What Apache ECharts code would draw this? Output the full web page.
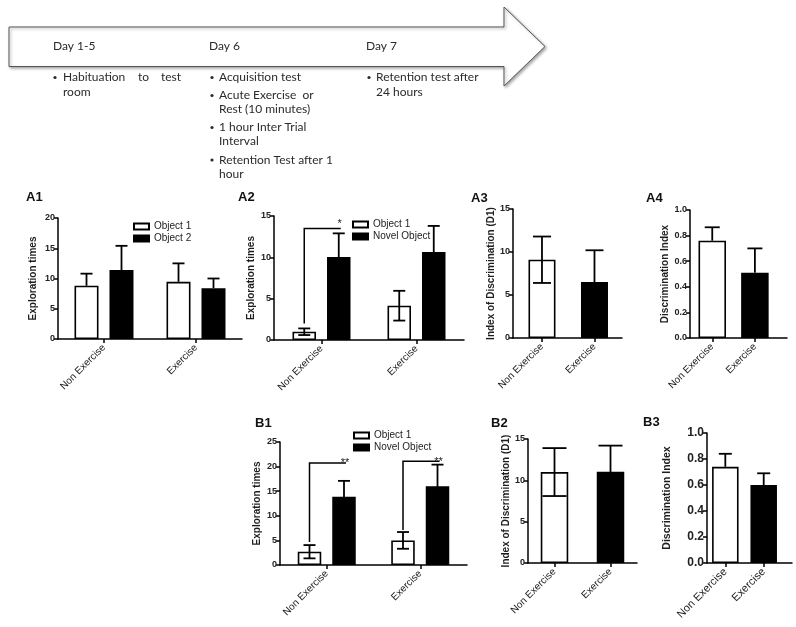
<!DOCTYPE html>
<html><head><meta charset="utf-8">
<script src="https://cdn.jsdelivr.net/npm/echarts@6/dist/echarts.min.js"></script>
<style>html,body{margin:0;padding:0;background:#fff}#c{width:796px;height:627px}</style>
</head><body><div id="c"></div>
<script>
// ---------- DATA ----------
const categories = ['Non Exercise', 'Exercise'];
// A1
const a1Object1 = [8.8, 9.45];   const a1Object1Err = [2.0, 3.05];
const a1Object2 = [11.4, 8.4];   const a1Object2Err = [4.0, 1.6];
// A2
const a2Object1 = [1.0, 4.15];   const a2Object1Err = [0.4, 1.8];
const a2Novel   = [10.05, 10.65]; const a2NovelErr = [2.85, 3.15];
const a2Brackets = [[0, 2.0, 13.5, '*']];
// A3
const a3Index = [9.1, 6.5];      const a3IndexErr = [2.7, 3.7];
// A4
const a4Index = [0.76, 0.51];    const a4IndexErr = [0.105, 0.19];
// B1
const b1Object1 = [2.7, 5.0];    const b1Object1Err = [1.35, 1.7];
const b1Novel   = [13.85, 16.0]; const b1NovelErr = [3.25, 4.4];
const b1Brackets = [[0, 4.7, 20.75, '**'], [1, 7.1, 21.1, '**']];
// B2
const b2Index = [11.0, 11.05];   const b2IndexErr = [2.9, 3.15];
// B3
const b3Index = [0.74, 0.60];    const b3IndexErr = [0.10, 0.09];
// tick labels
const ticksA1 = [0, 5, 10, 15, 20];
const ticksA2 = [0, 5, 10, 15];
const ticksA3 = [0, 5, 10, 15];
const ticksA4 = [0.0, 0.2, 0.4, 0.6, 0.8, 1.0];
const ticksB1 = [0, 5, 10, 15, 20, 25];
const ticksB2 = [0, 5, 10, 15];
const ticksB3 = [0.0, 0.2, 0.4, 0.6, 0.8, 1.0];
// timeline texts
const dayLabels = ['Day 1-5', 'Day 6', 'Day 7'];
const day1Bullets = [['Habituation', 'to', 'test'], ['room']];
const day6Bullets = [['Acquisition test'], ['Acute Exercise  or', 'Rest (10 minutes)'], ['1 hour Inter Trial', 'Interval'], ['Retention Test after 1', 'hour']];
const day7Bullets = [['Retention test after', '24 hours']];

// ---------- CHART ----------
const chart = echarts.init(document.getElementById('c'), null, {renderer: 'canvas'});
const AX = 'Liberation Sans, Arial, sans-serif';
const TL = 'Lato, sans-serif';
const INK = '#1e1e1e';
const TLC = '#2b2b2b';

const option = {backgroundColor: '#fff', animation: false, grid: [], xAxis: [], yAxis: [], series: [], legend: [], graphic: []};

function errRender(offset, cap, showLow) {
  return function (params, api) {
    const x = api.value(0), v = api.value(1), e = api.value(2);
    const mid = api.coord([x, v]);
    const top = api.coord([x, v + e]);
    const bot = api.coord([x, v - e]);
    const cx = mid[0] + offset;
    const st = {stroke: '#000', lineWidth: 1.8};
    const ch = [
      {type: 'line', shape: {x1: cx, y1: showLow ? bot[1] : mid[1], x2: cx, y2: top[1]}, style: st},
      {type: 'line', shape: {x1: cx - cap / 2, y1: top[1], x2: cx + cap / 2, y2: top[1]}, style: st}
    ];
    if (showLow) ch.push({type: 'line', shape: {x1: cx - cap / 2, y1: bot[1], x2: cx + cap / 2, y2: bot[1]}, style: st});
    return {type: 'group', children: ch};
  };
}
function bracketRender(list, off1, off2, starDy, font) {
  return function (params, api) {
    const item = list[params.dataIndex];
    const x = item[0];
    const lo = api.coord([x, item[1]]);
    const hi = api.coord([x, item[2]]);
    const x1 = lo[0] + off1, x2 = lo[0] + off2;
    const st = {stroke: '#000', lineWidth: 1.5, fill: null};
    return {type: 'group', children: [
      {type: 'polyline', shape: {points: [[x1, lo[1]], [x1, hi[1]], [x2 + 2, hi[1]]]}, style: st},
      {type: 'text', style: {x: x2 + 1, y: hi[1] + starDy, text: item[3], font: font, fill: '#222', align: 'center', verticalAlign: 'top'}}
    ]};
  };
}

const panels = [
  {label: 'A1', lx: 26, ly: 191, grid: {left: 58, top: 218, width: 184, height: 121}, ticks: ticksA1, yName: 'Exploration times', nameGap: 20,
   type: 'category', barWidth: 24, gap: 11, cap: 12, showLow: false, tickFont: 9,
   series: [['Object 1', a1Object1, a1Object1Err, '#fff'], ['Object 2', a1Object2, a1Object2Err, '#000']],
   legend: {left: 133, top: 221}},
  {label: 'A2', lx: 238, ly: 191, grid: {left: 274, top: 216, width: 190, height: 124}, ticks: ticksA2, yName: 'Exploration times', nameGap: 18,
   type: 'category', barWidth: 23.5, gap: 11, cap: 12, showLow: true, tickFont: 9,
   series: [['Object 1', a2Object1, a2Object1Err, '#fff'], ['Novel Object', a2Novel, a2NovelErr, '#000']],
   brackets: a2Brackets, starDy: -10, starFont: '11px ' + AX,
   legend: {left: 352, top: 219}},
  {label: 'A3', lx: 471, ly: 192, grid: {left: 513, top: 209, width: 109, height: 129}, ticks: ticksA3, yName: 'Index of Discrimination (D1)', nameGap: 16,
   type: 'value', xMin: -0.552, xMax: 1.524, barWidth: 27, cap: 18, showLow: true, tickFont: 9,
   series: [['DI A3', a3Index, a3IndexErr, null]]},
  {label: 'A4', lx: 646, ly: 192, grid: {left: 690, top: 210, width: 97, height: 128}, ticks: ticksA4, yName: 'Discrimination Index', nameGap: 14,
   type: 'value', xMin: -0.522, xMax: 1.753, barWidth: 27.5, cap: 15, showLow: false, tickFont: 9, dec: 1,
   series: [['DI A4', a4Index, a4IndexErr, null]]},
  {label: 'B1', lx: 255, ly: 417, grid: {left: 280, top: 442, width: 187, height: 123}, ticks: ticksB1, yName: 'Exploration times', nameGap: 18,
   type: 'category', barWidth: 23.5, gap: 11, cap: 12, showLow: true, tickFont: 9,
   series: [['Object 1', b1Object1, b1Object1Err, '#fff'], ['Novel Object', b1Novel, b1NovelErr, '#000']],
   brackets: b1Brackets, starDy: -5, starFont: '11px ' + AX,
   legend: {left: 353, top: 430}},
  {label: 'B2', lx: 491, ly: 417, grid: {left: 528, top: 439, width: 109, height: 124}, ticks: ticksB2, yName: 'Index of Discrimination (D1)', nameGap: 17,
   type: 'value', xMin: -0.473, xMax: 1.473, barWidth: 27.5, cap: 24, showLow: true, tickFont: 9,
   series: [['DI B2', b2Index, b2IndexErr, null]]},
  {label: 'B3', lx: 643, ly: 416, grid: {left: 707, top: 433, width: 85, height: 130}, ticks: ticksB3, yName: 'Discrimination Index', nameGap: 34,
   type: 'value', xMin: -0.477, xMax: 1.737, barWidth: 26.5, cap: 13, showLow: false, tickFont: 12, yNameFont: 10.5, catFont: 11, dec: 1,
   series: [['DI B3', b3Index, b3IndexErr, null]]}
];

const axisLineStyle = {color: '#000', width: 1.5};
panels.forEach(function (p, gi) {
  option.grid.push(Object.assign({containLabel: false}, p.grid));
  const t = p.ticks;
  option.yAxis.push({
    gridIndex: gi, type: 'value', min: t[0], max: t[t.length - 1], interval: t[1] - t[0],
    name: p.yName, nameLocation: 'middle', nameGap: p.nameGap, nameRotate: 90,
    nameTextStyle: {fontFamily: AX, fontWeight: 'bold', fontSize: p.yNameFont || 10, color: INK},
    axisLine: {show: true, onZero: false, lineStyle: axisLineStyle},
    axisTick: {show: true, length: 4, lineStyle: axisLineStyle},
    splitLine: {show: false},
    axisLabel: {fontFamily: AX, fontWeight: 'bold', fontSize: p.tickFont, color: '#222', margin: 3,
      formatter: p.dec ? function (v) { return v.toFixed(p.dec); } : undefined}
  });
  const labelStyle = {fontFamily: AX, fontSize: p.catFont || 10, color: '#222', rotate: 45, margin: 7, interval: 0};
  if (p.type === 'category') {
    option.xAxis.push({gridIndex: gi, type: 'category', data: categories, boundaryGap: true,
      axisLine: {show: true, onZero: false, lineStyle: axisLineStyle}, axisTick: {show: true, alignWithLabel: true, length: 4, lineStyle: axisLineStyle},
      axisLabel: labelStyle, splitLine: {show: false}});
  } else {
    option.xAxis.push({gridIndex: gi, type: 'value', min: p.xMin, max: p.xMax,
      axisLine: {show: true, onZero: false, lineStyle: axisLineStyle},
      axisTick: {show: true, length: 4, lineStyle: axisLineStyle, customValues: [0, 1]},
      axisLabel: Object.assign({}, labelStyle, {customValues: [0, 1], formatter: function (v) { return categories[Math.round(v)]; }}),
      splitLine: {show: false}});
  }
  const n = p.series.length;
  p.series.forEach(function (s, si) {
    let dataBar;
    if (p.type === 'category') {
      dataBar = s[1];
    } else {
      dataBar = s[1].map(function (v, i) { return {value: [i, v], itemStyle: {color: i === 0 ? '#fff' : '#000'}}; });
    }
    const dataErr = s[1].map(function (v, i) { return [i, v, s[2][i]]; });
    const bar = {type: 'bar', name: s[0], xAxisIndex: gi, yAxisIndex: gi, data: dataBar, barWidth: p.barWidth,
      itemStyle: {color: s[3] || '#fff', borderColor: '#000', borderWidth: 1.6}, z: 2};
    if (p.type === 'category') bar.barGap = (p.gap / p.barWidth * 100).toFixed(1) + '%';
    option.series.push(bar);
    const offset = n === 2 ? (si === 0 ? -1 : 1) * (p.barWidth + p.gap) / 2 : 0;
    option.series.push({type: 'custom', name: s[0] + ' err', xAxisIndex: gi, yAxisIndex: gi, data: dataErr,
      encode: {x: 0, y: 1}, renderItem: errRender(offset, p.cap, p.showLow), z: 3});
  });
  if (p.brackets) {
    const d = (p.barWidth + p.gap) / 2;
    option.series.push({type: 'custom', name: 'sig', xAxisIndex: gi, yAxisIndex: gi,
      data: p.brackets.map(function (b) { return [b[0], b[1], b[2]]; }),
      encode: {x: 0, y: 2}, renderItem: bracketRender(p.brackets, -d, d, p.starDy, p.starFont), z: 4});
  }
  if (p.legend) {
    option.legend.push({data: p.series.map(function (s) { return s[0]; }), left: p.legend.left, top: p.legend.top,
      orient: 'vertical', icon: 'rect', itemWidth: 15, itemHeight: 6, itemGap: 1, selectedMode: false, padding: 0,
      textStyle: {fontFamily: AX, fontSize: 10, color: '#222', lineHeight: 11, padding: [0, 0, 0, 0]}});
  }
  option.graphic.push({type: 'text', left: p.lx, top: p.ly, style: {text: p.label, font: 'bold 13px ' + AX, fill: '#111'}});
});

// timeline arrow
option.graphic.push({type: 'polygon', shape: {points: [[9, 27], [504, 27], [504, 7], [545, 46.5], [504, 86], [504, 66.5], [9, 66.5]]},
  style: {fill: '#fff', stroke: '#555', lineWidth: 1, shadowBlur: 3, shadowColor: 'rgba(0,0,0,0.35)', shadowOffsetX: 1.5, shadowOffsetY: 1.5}, z: 0});
const dayX = [53, 209, 366];
dayLabels.forEach(function (d, i) {
  option.graphic.push({type: 'text', style: {x: dayX[i], y: 46, text: d, font: '12px ' + TL, fill: TLC, verticalAlign: 'middle'}, z: 1});
});
function addText(x, y, txt) {
  option.graphic.push({type: 'text', style: {x: x, y: y, text: txt, font: '12px ' + TL, fill: TLC, verticalAlign: 'middle'}, z: 1});
}
function addBullet(x, y) {
  option.graphic.push({type: 'circle', shape: {cx: x, cy: y, r: 1.6}, style: {fill: TLC}, z: 1});
}
// Day 1-5 (justified first line)
addBullet(55, 77.5);
addText(63, 77.5, day1Bullets[0][0]); addText(138, 77.5, day1Bullets[0][1]); addText(161, 77.5, day1Bullets[0][2]);
addText(63, 92.5, day1Bullets[1][0]);
// Day 6
const day6Y = [[77.5], [95.5, 109.5], [127.5, 141.5], [160, 174.5]];
day6Bullets.forEach(function (b, i) {
  addBullet(212, day6Y[i][0]);
  b.forEach(function (line, j) { addText(219, day6Y[i][j], line); });
});
// Day 7
addBullet(369, 77.5);
day7Bullets[0].forEach(function (line, j) { addText(376, [77.5, 92.5][j], line); });

chart.setOption(option);
</script></body></html>
